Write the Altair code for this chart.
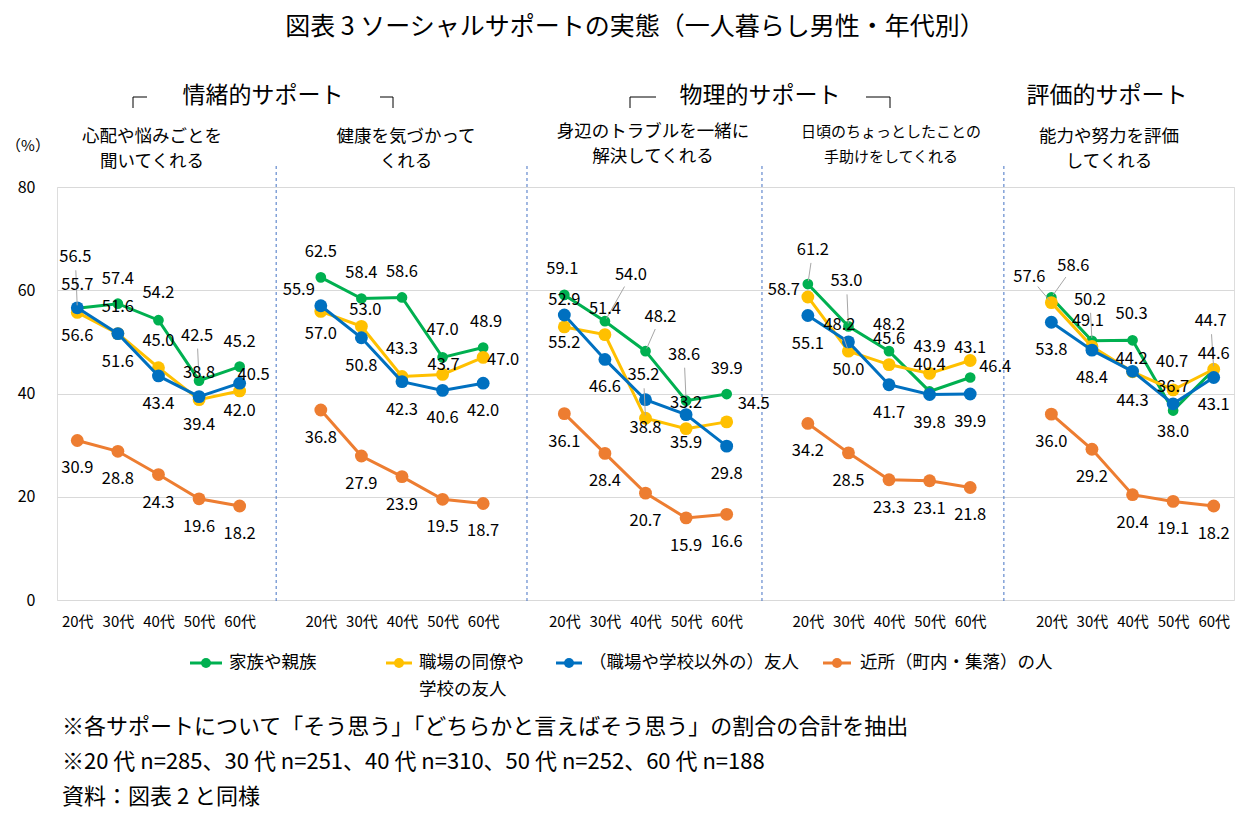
import json
import math

import altair as alt
import pandas as pd

FONT = "Noto Sans CJK JP"

# ---- data -------------------------------------------------------------
AGES = ["20代", "30代", "40代", "50代", "60代"]
PANELS = [
    "心配や悩みごとを\n聞いてくれる",
    "健康を気づかって\nくれる",
    "身辺のトラブルを一緒に\n解決してくれる",
    "日頃のちょっとしたことの\n手助けをしてくれる",
    "能力や努力を評価\nしてくれる",
]
SERIES = ["家族や親族", "職場の同僚や学校の友人", "（職場や学校以外の）友人", "近所（町内・集落）の人"]
COLORS = ["#00B050", "#FFC000", "#0070C0", "#ED7D31"]

family = [
    [56.5, 57.4, 54.2, 42.5, 45.2],
    [62.5, 58.4, 58.6, 47.0, 48.9],
    [59.1, 54.0, 48.2, 38.6, 39.9],
    [61.2, 53.0, 48.2, 40.4, 43.1],
    [58.6, 50.2, 50.3, 36.7, 44.6],
]
coworkers = [
    [55.7, 51.6, 45.0, 38.8, 40.5],
    [55.9, 53.0, 43.3, 43.7, 47.0],
    [52.9, 51.4, 35.2, 33.2, 34.5],
    [58.7, 48.2, 45.6, 43.9, 46.4],
    [57.6, 49.1, 44.2, 40.7, 44.7],
]
friends = [
    [56.6, 51.6, 43.4, 39.4, 42.0],
    [57.0, 50.8, 42.3, 40.6, 42.0],
    [55.2, 46.6, 38.8, 35.9, 29.8],
    [55.1, 50.0, 41.7, 39.8, 39.9],
    [53.8, 48.4, 44.3, 38.0, 43.1],
]
neighbors = [
    [30.9, 28.8, 24.3, 19.6, 18.2],
    [36.8, 27.9, 23.9, 19.5, 18.7],
    [36.1, 28.4, 20.7, 15.9, 16.6],
    [34.2, 28.5, 23.3, 23.1, 21.8],
    [36.0, 29.2, 20.4, 19.1, 18.2],
]
VALUES = [family, coworkers, friends, neighbors]

# ---- layout -----------------------------------------------------------
W, H = 1177, 413
LEFT, TOP = 57, 187
SLOTS = 29                     # 5 panels x 5 ages + 4 gaps
PX_X = W / SLOTS
PX_Y = H / 80
SEPARATORS = [4.9, 11.08, 16.87, 22.83]

# value-label placement (px offsets from the point); default per series
DEFAULT_DY = [-27, -27, 28, 28]
LABEL_OFFSETS = {
    (0, 0, 0): (-2, -51, True), (0, 0, 1): (0, -25, False), (0, 0, 3): (-2, -45, True),
    (0, 0, 4): (0, -25, False), (1, 0, 4): (14, -16, False),
    (0, 1, 0): (0, -25, False), (0, 1, 1): (0, -26, False), (0, 1, 2): (0, -25, False),
    (0, 1, 4): (3, -26, False), (1, 1, 0): (-22, -21, False), (1, 1, 1): (4, -16, False),
    (1, 1, 3): (1, -9, False), (1, 1, 4): (20, 3, False),
    (0, 2, 0): (-2, -26, False), (0, 2, 1): (26, -46, True), (0, 2, 2): (15, -34, True),
    (0, 2, 3): (-2, -46, True), (0, 2, 4): (0, -25, False), (1, 2, 1): (0, -26, False),
    (1, 2, 2): (-2, -43, True), (1, 2, 3): (0, -26, False), (1, 2, 4): (27, -18, False),
    (0, 3, 0): (5, -34, True), (0, 3, 1): (-2, -45, True), (0, 3, 2): (0, -26, False),
    (0, 3, 3): (0, -26, False), (0, 3, 4): (0, -29, False), (1, 3, 0): (-24, -7, False),
    (1, 3, 1): (-9, -26, True), (1, 3, 2): (0, -26, False), (1, 3, 3): (0, -26, False),
    (1, 3, 4): (25, 7, False),
    (0, 4, 0): (22, -31, True), (0, 4, 1): (-2, -41, True), (0, 4, 2): (-1, -26, False),
    (0, 4, 3): (0, -24, False), (0, 4, 4): (0, -16, False), (1, 4, 0): (-22, -26, True),
    (1, 4, 1): (-4, -26, False), (1, 4, 2): (-1, -13, False), (1, 4, 3): (-1, -28, False),
    (1, 4, 4): (-3, -48, True), (2, 4, 2): (0, 30, False),
}

rows, leaders = [], []
for s, series_vals in enumerate(VALUES):
    for p, panel_vals in enumerate(series_vals):
        for a, v in enumerate(panel_vals):
            x = p * 6 + a
            dx, dy, lead = LABEL_OFFSETS.get((s, p, a), (0, DEFAULT_DY[s], False))
            lx, ly = x + dx / PX_X, v - dy / PX_Y
            rows.append(dict(s=s, series=SERIES[s], panel=p, x=x, v=v,
                             lx=lx, ly=ly, label=f"{v:.1f}"))
            if lead:
                L = math.hypot(dx, dy)
                ux, uy = -dx / L, -dy / L           # unit vector label -> point (px)
                sx, sy = dx + ux * 13, dy + uy * 13
                ex, ey = -ux * 3, -uy * 3
                leaders.append(dict(x1=x + sx / PX_X, y1=v - sy / PX_Y,
                                    x2=x + ex / PX_X, y2=v - ey / PX_Y))
df = pd.DataFrame(rows)
lead_df = pd.DataFrame(leaders)

age_expr = json.dumps(AGES, ensure_ascii=False) + "[datum.value % 6]"
x_scale = alt.Scale(domain=[-0.5, SLOTS - 0.5], nice=False, zero=False)
y_scale = alt.Scale(domain=[0, 80], nice=False)
x_axis = alt.Axis(values=[p * 6 + a for p in range(5) for a in range(5)], labelExpr=age_expr,
                  grid=False, domain=False, ticks=False, title=None, labelFontSize=15,
                  labelPadding=14, labelFont=FONT, labelColor="black")
y_axis = alt.Axis(values=[0, 20, 40, 60, 80], grid=True, gridColor="#D9D9D9", domain=False,
                  ticks=False, title=None, labelFontSize=16, labelPadding=22,
                  labelFont=FONT, labelColor="black")


def X(field):
    return alt.X(f"{field}:Q", scale=x_scale, axis=x_axis)


def Y(field):
    return alt.Y(f"{field}:Q", scale=y_scale, axis=y_axis)


layers = []

# dashed panel separators
sep = alt.Chart(pd.DataFrame({"sx": SEPARATORS})).mark_rule(
    color="#4472C4", strokeWidth=1, strokeDash=[3, 3]
).encode(x=X("sx"), y=alt.value(-21), y2=alt.value(H + 3))
layers.append(sep)

# series: line + markers, drawn in series order
for s in range(len(SERIES)):
    sub = df[df.s == s]
    base = alt.Chart(sub)
    layers.append(base.mark_line(color=COLORS[s], strokeWidth=3).encode(
        x=X("x"), y=Y("v"), detail="panel:N"))
    layers.append(base.mark_circle(color=COLORS[s], opacity=1,
                                   size=115 if s == 0 else 165).encode(x=X("x"), y=Y("v")))

# leader lines
layers.append(alt.Chart(lead_df).mark_rule(color="#A6A6A6", strokeWidth=1).encode(
    x=X("x1"), y=Y("y1"), x2="x2:Q", y2="y2:Q"))

# value labels
layers.append(alt.Chart(df).mark_text(fontSize=16.5, font=FONT, color="black",
                                      align="center", baseline="middle").encode(
    x=X("lx"), y=Y("ly"), text="label:N"))


def text_at(text, xa, ya, size, align="center", weight="normal"):
    return alt.Chart(alt.Data(values=[{}])).mark_text(
        text=text, fontSize=size, font=FONT, color="black", align=align,
        baseline="middle", fontWeight=weight
    ).encode(x=alt.value(xa - LEFT), y=alt.value(ya - TOP))


def rule_at(x1, y1, x2, y2, color="black", width=1):
    return alt.Chart(alt.Data(values=[{}])).mark_rule(color=color, strokeWidth=width).encode(
        x=alt.value(x1 - LEFT), y=alt.value(y1 - TOP),
        x2=alt.value(x2 - LEFT), y2=alt.value(y2 - TOP))


# title and group headings
layers.append(text_at("図表 3  ソーシャルサポートの実態（一人暮らし男性・年代別）", 635, 27, 25))
layers.append(text_at("情緒的サポート", 263, 96, 23))
layers.append(text_at("物理的サポート", 760, 96, 23))
layers.append(text_at("評価的サポート", 1107, 96, 23))

# brackets beside the group headings
for (xv, xh) in [(133, 147), (393, 380), (630, 656), (890, 866)]:
    layers.append(rule_at(xv, 97, xv, 108))
    layers.append(rule_at(xv, 97, xh, 97))

# panel subtitles
SUB_POS = [(152, 137, 17.5), (406, 137, 17.5), (653, 132, 17.5), (891, 132, 15), (1109, 137, 17.5)]
for (cx, cy, fs), name in zip(SUB_POS, PANELS):
    l1, l2 = name.split("\n")
    layers.append(text_at(l1, cx, cy, fs))
    layers.append(text_at(l2, cx, cy + 25, fs))

layers.append(text_at("（%）", 28, 146, 15))

# legend
LEG = [(190, 222, 229), (386, 412, 419), (556, 582, 589), (823, 851, 860)]
LEG_TEXT = ["家族や親族", "職場の同僚や", "（職場や学校以外の）友人", "近所（町内・集落）の人"]
for s, ((x1, x2, tx), t) in enumerate(zip(LEG, LEG_TEXT)):
    layers.append(rule_at(x1, 663, x2, 663, COLORS[s], 3))
    layers.append(alt.Chart(alt.Data(values=[{}])).mark_circle(
        color=COLORS[s], opacity=1, size=100).encode(
        x=alt.value((x1 + x2) / 2 - LEFT), y=alt.value(663 - TOP)))
    layers.append(text_at(t, tx, 663, 17.5, align="left"))
layers.append(text_at("学校の友人", 419, 690, 17.5, align="left"))

# notes
NOTES = [
    "※各サポートについて「そう思う」「どちらかと言えばそう思う」の割合の合計を抽出",
    "※20 代 n=285、30 代 n=251、40 代 n=310、50 代 n=252、60 代 n=188",
    "資料：図表 2 と同様",
]
for i, note in enumerate(NOTES):
    layers.append(text_at(note, 62, 727 + 35 * i, 22, align="left"))

chart = alt.layer(*layers).properties(
    width=W, height=H,
    padding={"left": LEFT, "top": TOP, "right": 1252 - LEFT - W, "bottom": 822 - TOP - H},
    autosize=alt.AutoSizeParams(type="none"),
    background="white",
).configure_view(stroke=None).configure(font=FONT)

chart.save("out.html", embed_options={"renderer": "svg", "actions": False})
